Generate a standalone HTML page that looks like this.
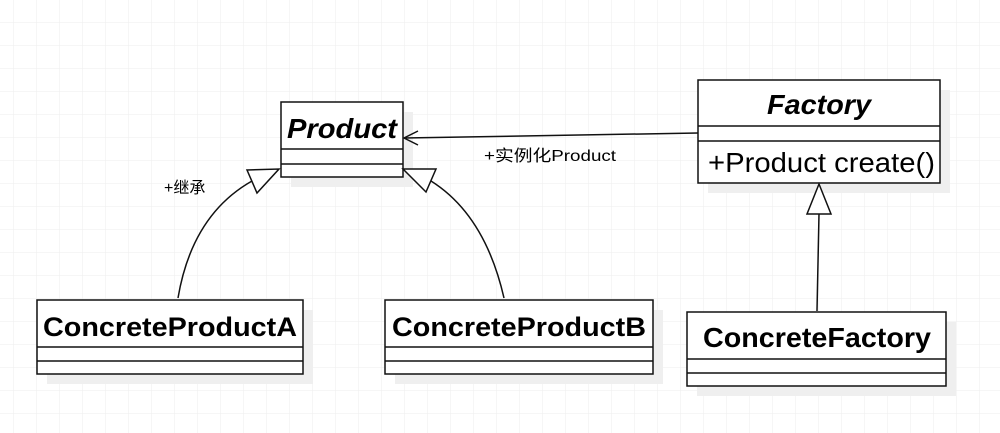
<!DOCTYPE html>
<html><head><meta charset="utf-8"><style>
html,body{margin:0;padding:0;width:1000px;height:433px;overflow:hidden;background:#fff}
</style></head><body>
<svg width="1000" height="433" xmlns="http://www.w3.org/2000/svg" font-family="Liberation Sans, Noto Sans CJK SC, sans-serif">
<defs><pattern id="g" x="13" y="22" width="23" height="23" patternUnits="userSpaceOnUse"><path d="M0 0H23M0 0V23" stroke="#eeeeee" stroke-width="1" fill="none"/></pattern></defs>
<rect width="1000" height="433" fill="url(#g)"/>
<g fill="#efefef">
<rect x="291" y="112" width="122" height="75"/>
<rect x="708" y="90" width="242" height="103"/>
<rect x="47" y="310" width="266" height="74"/>
<rect x="395" y="310" width="268" height="74"/>
<rect x="697" y="322" width="259" height="74"/>
</g>
<g fill="#fff" stroke="#111" stroke-width="1.5">
<rect x="281" y="102" width="122" height="75"/>
<line x1="281" y1="149" x2="403" y2="149"/><line x1="281" y1="164" x2="403" y2="164"/>
<rect x="698" y="80" width="242" height="103"/>
<line x1="698" y1="126" x2="940" y2="126"/><line x1="698" y1="141" x2="940" y2="141"/>
<rect x="37" y="300" width="266" height="74"/>
<line x1="37" y1="347" x2="303" y2="347"/><line x1="37" y1="361" x2="303" y2="361"/>
<rect x="385" y="300" width="268" height="74"/>
<line x1="385" y1="347" x2="653" y2="347"/><line x1="385" y1="361" x2="653" y2="361"/>
<rect x="687" y="312" width="259" height="74"/>
<line x1="687" y1="359" x2="946" y2="359"/><line x1="687" y1="373" x2="946" y2="373"/>
</g>
<g fill="none" stroke="#111" stroke-width="1.5">
<line x1="698" y1="133" x2="404" y2="138"/>
<polyline points="418,131 404,138 418,145"/>
<path d="M178 298 Q192 215 252 181"/>
<path d="M504 298 Q485 215 431 181"/>
<line x1="817" y1="311" x2="819" y2="214"/>
</g>
<g fill="#fff" stroke="#111" stroke-width="1.5">
<polygon points="247,170 279,169 257,193"/>
<polygon points="403,169 436,169 426,192"/>
<polygon points="819,184 807,214 831,214"/>
</g>
<g fill="#000">
<text x="342" y="138" font-size="28" font-weight="bold" font-style="italic" text-anchor="middle" textLength="110" lengthAdjust="spacingAndGlyphs">Product</text>
<text x="819" y="114" font-size="28" font-weight="bold" font-style="italic" text-anchor="middle" textLength="104" lengthAdjust="spacingAndGlyphs">Factory</text>
<text x="708" y="172" font-size="28" textLength="227" lengthAdjust="spacingAndGlyphs">+Product create()</text>
<text x="170" y="336" font-size="27" font-weight="bold" text-anchor="middle" textLength="254" lengthAdjust="spacingAndGlyphs">ConcreteProductA</text>
<text x="519" y="336" font-size="27" font-weight="bold" text-anchor="middle" textLength="254" lengthAdjust="spacingAndGlyphs">ConcreteProductB</text>
<text x="817" y="347" font-size="28" font-weight="bold" text-anchor="middle" textLength="228" lengthAdjust="spacingAndGlyphs">ConcreteFactory</text>
<text x="484" y="161" font-size="16" textLength="132" lengthAdjust="spacingAndGlyphs">+实例化Product</text>
<text x="164" y="193" font-size="16">+继承</text>
</g>
</svg>
</body></html>
